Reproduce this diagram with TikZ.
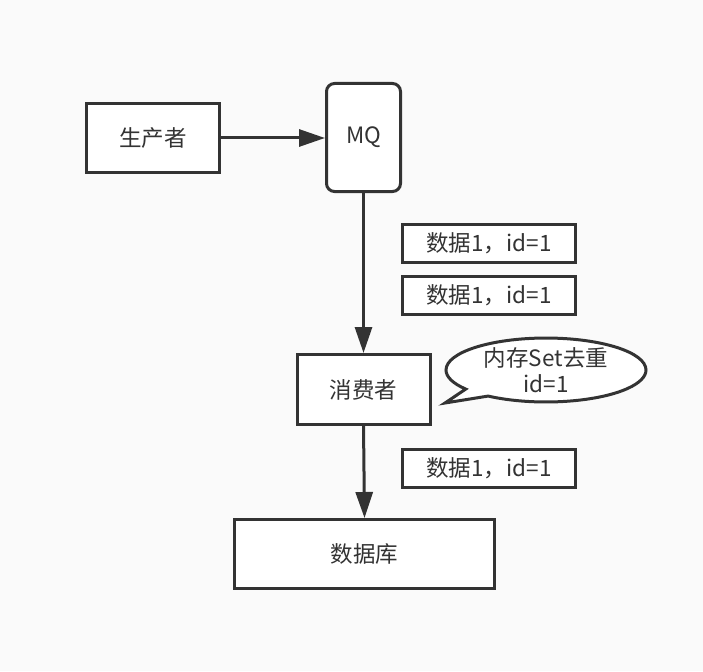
\documentclass[tikz,border=0pt]{standalone}
\usepackage{fontspec}
\setmainfont{Noto Sans CJK SC}
\usetikzlibrary{arrows.meta,shapes.callouts}
\definecolor{bg}{HTML}{FAFAFA}
\definecolor{ink}{HTML}{333333}
\tikzset{
  box/.style={draw=ink, line width=3pt, fill=white, text=ink, font=\fontsize{22.5}{26}\selectfont, inner sep=0pt},
  lab/.style={box, minimum width=173pt, minimum height=38pt},
  conn/.style={draw=ink, line width=3pt, -{Triangle[length=26pt,width=17pt]}},
}
\begin{document}
\begin{tikzpicture}[x=1pt,y=-1pt]
\fill[bg] (0,0) rectangle (703,671);
\useasboundingbox (0,0) rectangle (703,671);
\node[box, minimum width=133pt, minimum height=69pt] (prod) at (153,138) {生产者};
\node[box, minimum width=74pt, minimum height=108pt, rounded corners=8pt] (mq) at (363.5,137.5) {MQ};
\node[box, minimum width=133pt, minimum height=70pt] (cons) at (363.5,389.5) {消费者};
\node[box, minimum width=260pt, minimum height=69pt] (db) at (364.5,554) {数据库};
\node[lab] (l1) at (489,243) {数据1，id=1};
\node[lab] (l2) at (489,295.5) {数据1，id=1};
\node[lab] (l3) at (489,468.5) {数据1，id=1};
\coordinate (tip) at (445,403);
\node[box, ellipse callout, minimum width=200pt, minimum height=52pt, callout absolute pointer={(tip)}, callout pointer arc=18, align=center] (memo) at (546,370) {内存Set去重\\id=1};
\draw[conn] (prod.east) -- (mq.west |- prod.east);
\draw[conn] (mq.south) -- (cons.north);
\draw[conn] (cons.south) -- (db.north);
\end{tikzpicture}
\end{document}
